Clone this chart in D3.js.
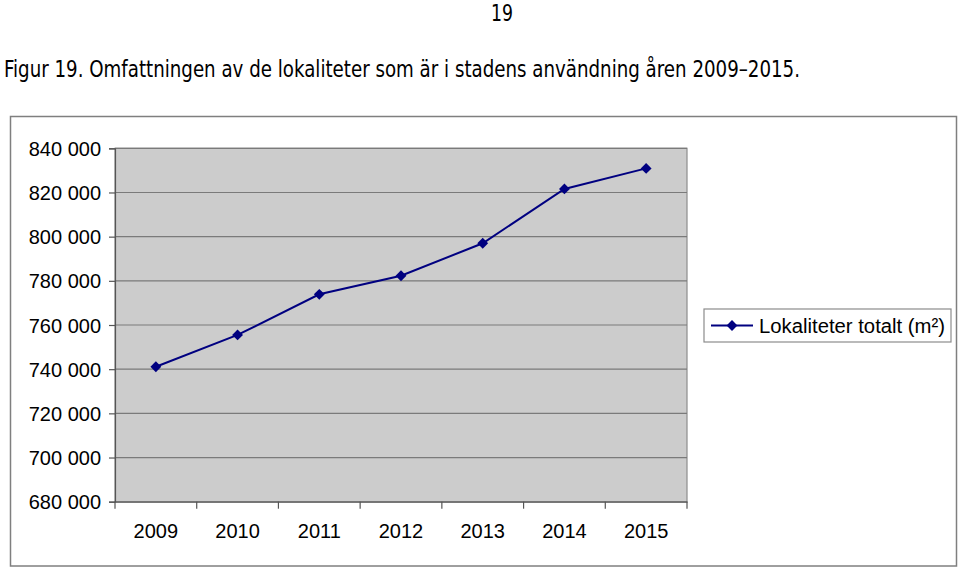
<!DOCTYPE html>
<html><head><meta charset="utf-8">
<script src="https://cdn.jsdelivr.net/npm/d3@7"></script>
<style>body{margin:0;background:#fff}svg{display:block}</style>
</head><body>
<svg id="c" width="960" height="570"></svg>
<script>
const years = ["2009","2010","2011","2012","2013","2014","2015"];
const values = [741100, 755500, 773900, 782300, 797000, 821600, 830900];
const yTicks = [680000,700000,720000,740000,760000,780000,800000,820000,840000];
const seriesName = "Lokaliteter totalt (m²)";
const pageNumber = "19";
const title = "Figur 19. Omfattningen av de lokaliteter som är i stadens användning åren 2009–2015.";

const svg = d3.select("#c");
const L = 115, R = 687, T = 148.3, B = 501.7;
const x = d3.scaleBand().domain(years).range([L, R]).paddingInner(0).paddingOuter(0);
const y = d3.scaleLinear().domain([680000, 840000]).range([B, T]);
const fmt = v => d3.format(",")(v).replace(/,/g, " ");

// page number and title
svg.append("text").attr("x", 502).attr("y", 21).attr("text-anchor","middle")
  .attr("font-family","DejaVu Sans Condensed, DejaVu Sans").attr("font-size",23)
  .attr("textLength",22).attr("lengthAdjust","spacingAndGlyphs").text(pageNumber);
svg.append("text").attr("x", 4).attr("y", 77)
  .attr("font-family","DejaVu Sans Condensed, DejaVu Sans").attr("font-size",23)
  .attr("textLength", 796).attr("lengthAdjust","spacingAndGlyphs").text(title);

// outer chart frame
svg.append("rect").attr("x",10.5).attr("y",116.5).attr("width",946).attr("height",449.5)
  .attr("fill","none").attr("stroke","#7f7f7f").attr("stroke-width",1.5);

// plot area
svg.append("rect").attr("x",L).attr("y",T).attr("width",R-L).attr("height",B-T)
  .attr("fill","#cccccc").attr("stroke","#8c8c8c").attr("stroke-width",1.2);

// gridlines
svg.append("g").selectAll("line").data(yTicks.slice(1)).join("line")
  .attr("x1",L).attr("x2",R).attr("y1",d=>y(d)).attr("y2",d=>y(d))
  .attr("stroke","#7a7a7a").attr("stroke-width",1.2);

// y axis
const ya = svg.append("g").attr("transform",`translate(${L},0)`)
  .call(d3.axisLeft(y).tickValues(yTicks).tickFormat(fmt).tickSize(6).tickPadding(8));
ya.select(".domain").attr("stroke","#555").attr("stroke-width",1.2);
ya.selectAll(".tick line").attr("stroke","#555").attr("stroke-width",1.2);
ya.selectAll("text").attr("font-family","Liberation Sans, Arial").attr("font-size",20).attr("fill","#000")
  .attr("dy","0.35em");

// x axis
const xa = svg.append("g").attr("transform",`translate(0,${B})`)
  .call(d3.axisBottom(x).tickSize(0).tickPadding(22));
xa.select(".domain").attr("stroke","#555").attr("stroke-width",1.2);
xa.selectAll("text").attr("font-family","Liberation Sans, Arial").attr("font-size",20).attr("fill","#000");
// category boundary ticks
const bounds = years.map(d => x(d)).concat([R]);
xa.append("g").selectAll("line").data(bounds).join("line")
  .attr("x1",d=>d).attr("x2",d=>d).attr("y1",0).attr("y2",7)
  .attr("stroke","#555").attr("stroke-width",1.2);

// line
const cx = d => x(d) + x.bandwidth()/2;
const pts = years.map((d,i)=>[cx(d), y(values[i])]);
svg.append("path").attr("d", d3.line()(pts)).attr("fill","none")
  .attr("stroke","#000080").attr("stroke-width",2);
const diamond = d3.symbol().type(d3.symbolDiamond2).size(75);
svg.append("g").selectAll("path").data(pts).join("path")
  .attr("transform",d=>`translate(${d[0]},${d[1]})`).attr("d",diamond)
  .attr("fill","#000080");

// legend
const lg = svg.append("g");
lg.append("rect").attr("x",704).attr("y",309).attr("width",247).attr("height",33)
  .attr("fill","#fff").attr("stroke","#8c8c8c").attr("stroke-width",1.2);
lg.append("line").attr("x1",711).attr("x2",753).attr("y1",325.5).attr("y2",325.5)
  .attr("stroke","#000080").attr("stroke-width",2);
lg.append("path").attr("transform","translate(732,325.5)").attr("d",diamond).attr("fill","#000080");
lg.append("text").attr("x",759).attr("y",332.5).attr("font-family","Liberation Sans, Arial")
  .attr("font-size",20).attr("textLength",186).attr("lengthAdjust","spacingAndGlyphs").text(seriesName);
</script>
</body></html>
